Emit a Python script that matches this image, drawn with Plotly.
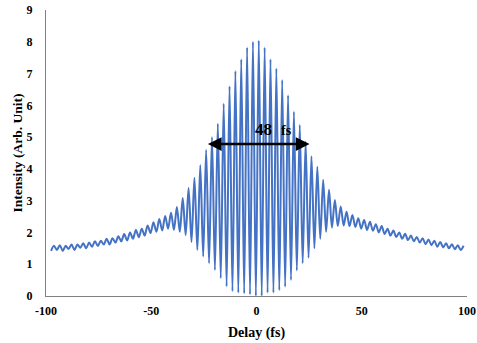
import plotly.graph_objects as go

# Fringe geometry (fs)
fringe_period = 2.78
first_trough_delay = -97.6

# Intensity at each fringe minimum (trough) and maximum (peak), left to right
trough_values = [
    1.42, 1.45, 1.42, 1.48, 1.45, 1.52, 1.50, 1.55, 1.57, 1.62,
    1.62, 1.68, 1.72, 1.75, 1.80, 1.85, 1.90, 1.98, 2.02, 2.06,
    2.12, 2.08, 2.02, 1.92, 1.70, 1.45, 1.24, 1.03, 0.82, 0.56,
    0.30, 0.15, 0.10, 0.08, 0.05, 0.00, 0.00, 0.10, 0.10, 0.18,
    0.29, 0.50, 0.80, 1.03, 1.20, 1.50, 1.80, 2.02, 2.15, 2.20,
    2.22, 2.20, 2.17, 2.12, 2.08, 2.05, 2.00, 1.95, 1.90, 1.86,
    1.80, 1.76, 1.72, 1.68, 1.63, 1.60, 1.55, 1.53, 1.50, 1.47,
    1.45,
]
peak_values = [
    1.58, 1.60, 1.58, 1.62, 1.62, 1.66, 1.68, 1.72, 1.74, 1.80,
    1.82, 1.88, 1.95, 2.00, 2.08, 2.12, 2.22, 2.32, 2.42, 2.52,
    2.62, 2.80, 3.08, 3.40, 3.72, 4.12, 4.60, 5.00, 5.42, 6.05,
    6.60, 7.08, 7.45, 7.82, 8.00, 8.04, 7.82, 7.45, 7.16, 6.80,
    6.32, 5.80, 5.38, 4.86, 4.40, 4.07, 3.66, 3.34, 3.02, 2.82,
    2.65, 2.55, 2.45, 2.39, 2.34, 2.26, 2.20, 2.12, 2.06, 2.00,
    1.96, 1.90, 1.86, 1.82, 1.78, 1.74, 1.70, 1.66, 1.63, 1.60,
    1.58,
]

x_ticks = [-100, -50, 0, 50, 100]
y_ticks = list(range(0, 10))

# FWHM marker
fwhm_start, fwhm_end, fwhm_level = -23.8, 25.2, 4.78
fwhm_label_x, fwhm_label_y = 8.2, 5.25

delay = []
intensity = []
for i, (lo, hi) in enumerate(zip(trough_values, peak_values)):
    t = first_trough_delay + i * fringe_period
    delay += [t, t + fringe_period / 2]
    intensity += [lo, hi]

font_family = "Liberation Serif, Times New Roman, serif"

fig = go.Figure()
fig.add_trace(go.Scatter(
    x=delay, y=intensity, mode="lines",
    line=dict(color="#4472C4", width=2, shape="spline", smoothing=0.9),
    showlegend=False,
))

fig.add_annotation(
    x=fwhm_end, y=fwhm_level, ax=fwhm_start, ay=fwhm_level,
    xref="x", yref="y", axref="x", ayref="y", text="",
    showarrow=True, arrowhead=2, startarrowhead=2, arrowside="end+start",
    arrowsize=1.1, startarrowsize=1.1, arrowwidth=2.5, arrowcolor="#000000",
)
fig.add_annotation(
    x=fwhm_label_x, y=fwhm_label_y, xref="x", yref="y",
    text="<b><span style='font-size:17px'>48</span>&nbsp;&nbsp;&nbsp;<span style='font-size:14px'>fs</span></b>",
    showarrow=False, font=dict(family=font_family, color="#000000"),
    xanchor="center", yanchor="middle",
)

axis_common = dict(
    showgrid=False, zeroline=False, showline=True, automargin=False,
    linecolor="#808080", linewidth=1,
    ticks="", tickfont=dict(family=font_family, size=12, color="#000000", weight="bold"),
)

fig.update_layout(
    width=477, height=343,
    margin=dict(l=46, r=10, t=10, b=47),
    plot_bgcolor="white", paper_bgcolor="white",
    xaxis=dict(
        range=[-100, 100], tickvals=x_ticks, ticktext=[str(v) for v in x_ticks],
        title=dict(text="<b>Delay (fs)</b>", font=dict(family=font_family, size=14, color="#000000"), standoff=9),
        ticklabelstandoff=4,
        **axis_common,
    ),
    yaxis=dict(
        range=[0, 9], tickvals=y_ticks,
        title=dict(text="<b>Intensity (Arb. Unit)</b>", font=dict(family=font_family, size=13.5, color="#000000"), standoff=0),
        ticklabelstandoff=10,
        **axis_common,
    ),
)

fig.write_html("out.html")
